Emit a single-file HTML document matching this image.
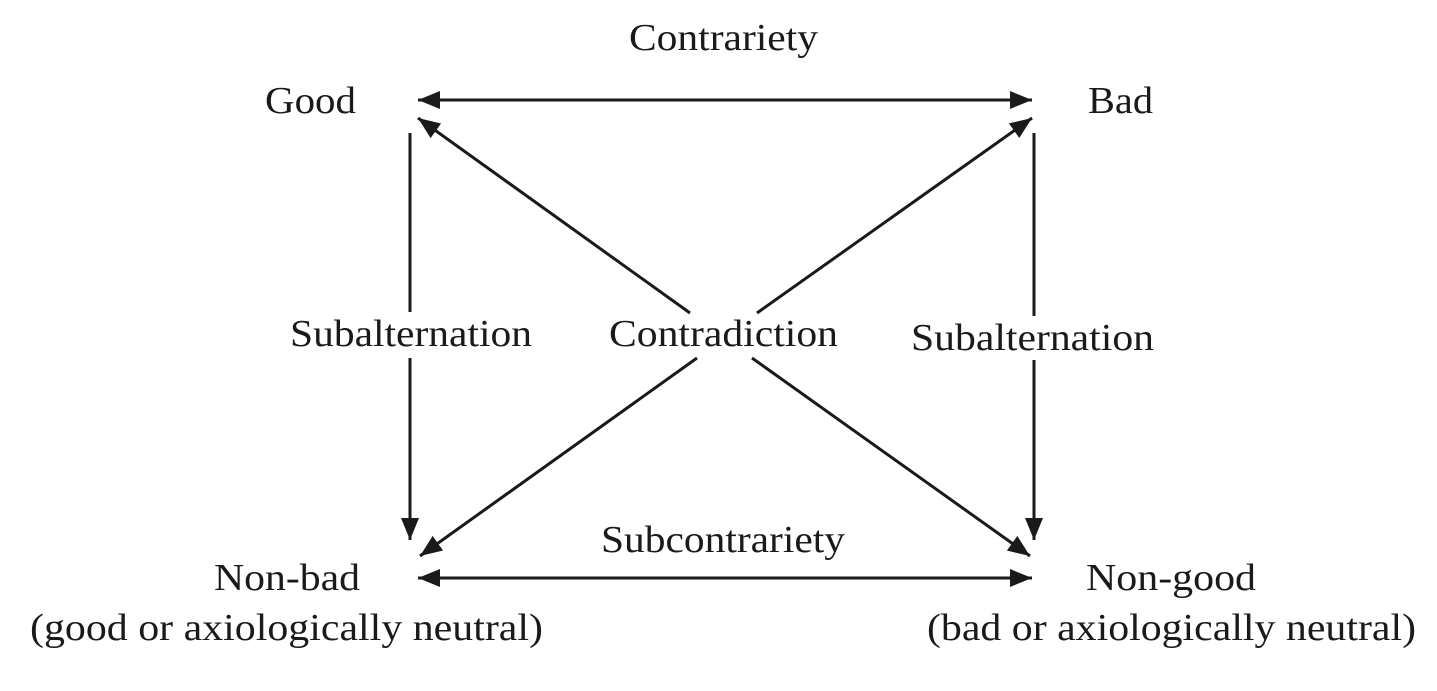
<!DOCTYPE html>
<html><head><style>html,body{margin:0;padding:0;background:#fff}</style></head><body>
<svg width="1437" height="686" viewBox="0 0 1437 686" xmlns="http://www.w3.org/2000/svg">
<defs>
<marker id="a" viewBox="0 0 22 18" refX="22" refY="9" markerWidth="22" markerHeight="18" markerUnits="userSpaceOnUse" orient="auto-start-reverse">
<path d="M0,0 L22,9 L0,18 Z" fill="#1a1a1a"/></marker>
</defs>
<g stroke="#1a1a1a" stroke-width="3" fill="none">
<line x1="418" y1="100" x2="1032" y2="100" marker-start="url(#a)" marker-end="url(#a)"/>
<line x1="418" y1="578" x2="1032" y2="578" marker-start="url(#a)" marker-end="url(#a)"/>
<line x1="410" y1="133" x2="410" y2="312"/>
<line x1="410" y1="358" x2="410" y2="540" marker-end="url(#a)"/>
<line x1="1034" y1="133" x2="1034" y2="316"/>
<line x1="1034" y1="360" x2="1034" y2="540" marker-end="url(#a)"/>
<line x1="690" y1="313" x2="418" y2="118" marker-end="url(#a)"/>
<line x1="752" y1="358" x2="1030" y2="556" marker-end="url(#a)"/>
<line x1="757" y1="313" x2="1032" y2="118" marker-end="url(#a)"/>
<line x1="697" y1="358" x2="420" y2="556" marker-end="url(#a)"/>
</g>
<g font-family="'Liberation Serif',serif" font-size="38" fill="#1a1a1a">
<text x="629" y="50" textLength="189" lengthAdjust="spacingAndGlyphs">Contrariety</text>
<text x="265" y="113" textLength="91" lengthAdjust="spacingAndGlyphs">Good</text>
<text x="1088" y="113" textLength="65" lengthAdjust="spacingAndGlyphs">Bad</text>
<text x="290" y="346" textLength="242" lengthAdjust="spacingAndGlyphs">Subalternation</text>
<text x="609" y="346" textLength="229" lengthAdjust="spacingAndGlyphs">Contradiction</text>
<text x="911" y="350" textLength="243" lengthAdjust="spacingAndGlyphs">Subalternation</text>
<text x="601" y="552" textLength="244" lengthAdjust="spacingAndGlyphs">Subcontrariety</text>
<text x="214" y="590" textLength="146" lengthAdjust="spacingAndGlyphs">Non-bad</text>
<text x="30" y="640" textLength="513" lengthAdjust="spacingAndGlyphs">(good or axiologically neutral)</text>
<text x="1086" y="590" textLength="170" lengthAdjust="spacingAndGlyphs">Non-good</text>
<text x="927" y="640" textLength="489" lengthAdjust="spacingAndGlyphs">(bad or axiologically neutral)</text>
</g>
</svg>
</body></html>
